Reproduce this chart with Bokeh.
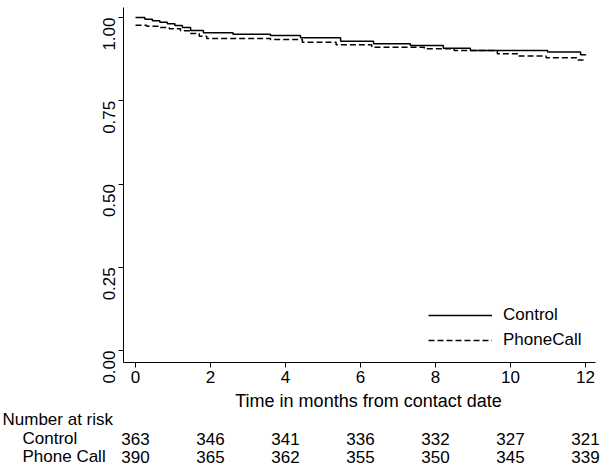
import math
from bokeh.plotting import figure
from bokeh.models import (Range1d, FixedTicker, NumeralTickFormatter, ColumnDataSource,
                          Legend, LegendItem)
from bokeh.core.properties import value
from bokeh.embed import file_html
from bokeh.resources import INLINE

# ---- data ----
control_months = [0.0, 0.25, 0.45, 0.65, 0.85, 1.05, 1.25, 1.47, 1.81, 2.6, 3.6, 4.4,
                  5.47, 6.35, 7.33, 8.21, 8.93, 10.99, 11.87, 12.0]
control_surv = [1.000, 0.995, 0.990, 0.986, 0.981, 0.976, 0.970, 0.961, 0.954, 0.950,
                0.946, 0.939, 0.929, 0.921, 0.916, 0.908, 0.901, 0.896, 0.888, 0.886]
phone_months = [0.0, 0.3, 0.6, 0.9, 1.2, 1.45, 1.7, 1.9, 3.6, 4.45, 5.35, 6.3, 7.7,
                8.5, 9.65, 10.2, 10.95, 11.8, 12.0]
phone_surv = [0.977, 0.974, 0.970, 0.966, 0.960, 0.952, 0.944, 0.937, 0.934, 0.926,
              0.918, 0.911, 0.906, 0.901, 0.891, 0.884, 0.879, 0.872, 0.869]

risk_months = [0, 2, 4, 6, 8, 10, 12]
risk_control = [363, 346, 341, 336, 332, 327, 321]
risk_phone = [390, 365, 362, 355, 350, 345, 339]
x_ticks = [0, 2, 4, 6, 8, 10, 12]
y_ticks = [0.0, 0.25, 0.5, 0.75, 1.0]
x_title = "Time in months from contact date"
table_header = "Number at risk"
group_names = ["Control", "Phone Call"]
legend_names = ["Control", "PhoneCall"]

# ---- layout geometry (pixels of the 600x467 canvas) ----
W, H = 600, 467
AL, AR, AT, AB = 123, 595, 7, 362          # plot-region edges (axis lines)
X0, X1 = -0.32, 12.267                     # axis extents in data units
Y0, Y1 = -0.036, 1.030
PXX = (AR - AL) / (X1 - X0)
PXY = (AB - AT) / (Y1 - Y0)

def xd(px):
    return X0 + (px - AL) / PXX

def yd(py):
    return Y1 - (py - AT) / PXY

FONT = "Liberation Sans"
FS = "17px"

p = figure(width=W, height=H, x_range=Range1d(xd(0), xd(W)),
           y_range=Range1d(yd(H), yd(0)),
           toolbar_location=None, output_backend="svg", min_border=0)
p.outline_line_color = None
p.xgrid.visible = False
p.ygrid.visible = False
p.background_fill_color = "white"
p.border_fill_color = "white"

for ax in (p.xaxis[0], p.yaxis[0]):
    ax.axis_line_color = "black"
    ax.axis_line_width = 1
    ax.major_tick_line_color = "black"
    ax.major_tick_in = 0
    ax.major_tick_out = 5
    ax.minor_tick_line_color = None
    ax.major_label_text_font = FONT
    ax.major_label_text_font_size = FS
    ax.major_label_text_color = "black"

xa = p.xaxis[0]
xa.ticker = FixedTicker(ticks=x_ticks)
xa.fixed_location = Y0
xa.bounds = (X0, X1)
xa.major_label_standoff = 3

ya = p.yaxis[0]
ya.ticker = FixedTicker(ticks=y_ticks)
ya.formatter = NumeralTickFormatter(format="0.00")
ya.fixed_location = X0
ya.bounds = (Y0, Y1)
ya.major_label_orientation = math.pi / 2
ya.major_label_standoff = 9

r_control = p.step(control_months, control_surv, mode="after", line_color="black",
                   line_width=1.5)
r_phone = p.step(phone_months, phone_surv, mode="after", line_color="black",
                 line_width=1.5, line_dash="6 3")

legend = Legend(items=[LegendItem(label=legend_names[0], renderers=[r_control]),
                       LegendItem(label=legend_names[1], renderers=[r_phone])],
                location=(428, H - 350), orientation="vertical",
                border_line_color=None, background_fill_alpha=0,
                padding=0, margin=0, spacing=5,
                glyph_width=64, glyph_height=20, label_height=20,
                label_standoff=11, label_text_font=FONT, label_text_font_size=FS,
                label_text_color="black")
p.add_layout(legend)

# ---- axis title and number-at-risk table ----
txt = dict(text_font=value(FONT), text_color="black", text_baseline="middle")

p.text(x=[xd(368)], y=[yd(400)], text=[x_title], text_align="center",
       text_font_size="18px", **txt)
p.text(x=[xd(2)], y=[yd(419)], text=[table_header], text_align="left",
       text_font_size=FS, **txt)
p.text(x=[xd(22), xd(22)], y=[yd(438), yd(456)], text=group_names,
       text_align="left", text_font_size=FS, **txt)

src = ColumnDataSource(dict(
    x=risk_months + risk_months,
    y=[yd(438)] * len(risk_months) + [yd(456)] * len(risk_months),
    t=[str(v) for v in risk_control] + [str(v) for v in risk_phone]))
p.text(x="x", y="y", text="t", source=src, text_align="center",
       text_font_size=FS, **txt)

open("out.html", "w").write(file_html(p, INLINE))
